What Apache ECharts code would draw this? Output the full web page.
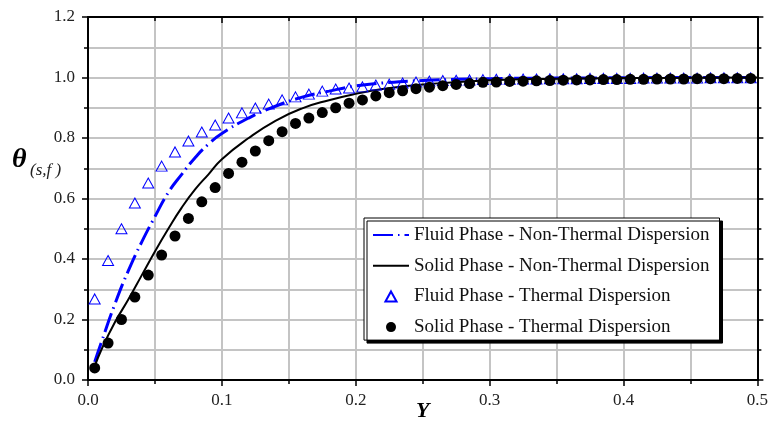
<!DOCTYPE html>
<html>
<head>
<meta charset="utf-8">
<script src="https://cdn.jsdelivr.net/npm/echarts@6/dist/echarts.min.js"></script>
<style>
  html, body { margin: 0; padding: 0; background: #fff; }
  #chart { width: 771px; height: 421px; }
</style>
</head>
<body>
<div id="chart"></div>
<script>
// curve samples (Y positions and theta values)
const lineY = [0.005, 0.01, 0.02, 0.03, 0.04, 0.05, 0.06, 0.07, 0.08, 0.09, 0.10, 0.12, 0.14, 0.16, 0.18, 0.20, 0.22, 0.25, 0.30, 0.35, 0.40, 0.45, 0.50];
const fluidNonThermal = [0.06, 0.125, 0.25, 0.36, 0.455, 0.54, 0.62, 0.68, 0.735, 0.78, 0.815, 0.866, 0.905, 0.935, 0.955, 0.972, 0.982, 0.990, 0.996, 0.998, 0.999, 1.0, 1.0];
const solidNonThermal = [0.045, 0.10, 0.19, 0.265, 0.345, 0.425, 0.50, 0.57, 0.63, 0.68, 0.73, 0.80, 0.857, 0.898, 0.925, 0.946, 0.962, 0.977, 0.991, 0.996, 0.998, 0.999, 1.0];

// marker positions
const markerY = [0.005, 0.015, 0.025, 0.035, 0.045, 0.055, 0.065, 0.075, 0.085, 0.095,
  0.105, 0.115, 0.125, 0.135, 0.145, 0.155, 0.165, 0.175, 0.185, 0.195,
  0.205, 0.215, 0.225, 0.235, 0.245, 0.255, 0.265, 0.275, 0.285, 0.295,
  0.305, 0.315, 0.325, 0.335, 0.345, 0.355, 0.365, 0.375, 0.385, 0.395,
  0.405, 0.415, 0.425, 0.435, 0.445, 0.455, 0.465, 0.475, 0.485, 0.495];
const fluidThermal = [0.268, 0.395, 0.50, 0.585, 0.651, 0.707, 0.754, 0.790, 0.820, 0.843,
  0.866, 0.883, 0.899, 0.912, 0.926, 0.936, 0.945, 0.955, 0.962, 0.965,
  0.969, 0.975, 0.978, 0.982, 0.985, 0.988, 0.990, 0.991, 0.992, 0.993,
  0.994, 0.994, 0.995, 0.995, 0.996, 0.996, 0.996, 0.997, 0.997, 0.997,
  0.997, 0.998, 0.998, 0.998, 0.998, 0.998, 0.999, 0.999, 0.999, 0.999];
const solidThermal = [0.04, 0.122, 0.20, 0.274, 0.347, 0.413, 0.476, 0.534, 0.589, 0.636,
  0.683, 0.720, 0.757, 0.791, 0.821, 0.848, 0.866, 0.884, 0.900, 0.915,
  0.926, 0.939, 0.950, 0.956, 0.963, 0.968, 0.973, 0.977, 0.980, 0.984,
  0.985, 0.987, 0.988, 0.989, 0.990, 0.991, 0.992, 0.992, 0.993, 0.993,
  0.994, 0.994, 0.995, 0.995, 0.995, 0.996, 0.996, 0.996, 0.997, 0.997];

const xTicks = [0, 0.1, 0.2, 0.3, 0.4, 0.5];
const yTicks = [0, 0.2, 0.4, 0.6, 0.8, 1.0, 1.2];

const names = [
  'Fluid Phase - Non-Thermal Dispersion',
  'Solid Phase - Non-Thermal Dispersion',
  'Fluid Phase - Thermal Dispersion',
  'Solid Phase - Thermal Dispersion'
];

const zip = (xs, ys) => xs.map((x, i) => [x, ys[i]]);

const serif = 'Liberation Serif';
const gray = '#c4c4c4';

const chart = echarts.init(document.getElementById('chart'));

const baseX = {
  type: 'value', min: xTicks[0], max: xTicks[xTicks.length - 1], interval: 0.1,
  axisLine: { show: true, onZero: false, lineStyle: { color: '#000', width: 2 } },
  splitLine: { show: true, lineStyle: { color: gray, width: 2 } },
  minorTick: { show: true, splitNumber: 2, length: 4, lineStyle: { color: '#000', width: 1.5 } },
  minorSplitLine: { show: true, lineStyle: { color: gray, width: 2 } }
};
const baseY = {
  type: 'value', min: yTicks[0], max: yTicks[yTicks.length - 1], interval: 0.2,
  axisLine: { show: true, onZero: false, lineStyle: { color: '#000', width: 2 } },
  splitLine: { show: true, lineStyle: { color: gray, width: 2 } },
  minorTick: { show: true, splitNumber: 2, length: 4, lineStyle: { color: '#000', width: 1.5 } },
  minorSplitLine: { show: true, lineStyle: { color: gray, width: 2 } }
};

chart.setOption({
  animation: false,
  backgroundColor: '#fff',
  grid: { left: 88, right: 12, top: 17, bottom: 41 },
  xAxis: [
    Object.assign({}, baseX, {
      position: 'bottom',
      axisTick: { show: true, length: 6, lineStyle: { color: '#000', width: 1.5 } },
      axisLabel: { margin: 12, color: '#222', fontFamily: serif, fontSize: 17, formatter: v => v.toFixed(1) }
    }),
    Object.assign({}, baseX, {
      position: 'top',
      splitLine: { show: false }, minorSplitLine: { show: false },
      axisTick: { show: true, inside: true, length: 6, lineStyle: { color: '#000', width: 1.5 } },
      minorTick: { show: true, splitNumber: 2, length: 4, lineStyle: { color: '#000', width: 1.5 } },
      axisLabel: { show: false }
    })
  ],
  yAxis: [
    Object.assign({}, baseY, {
      position: 'left',
      axisTick: { show: true, length: 6, lineStyle: { color: '#000', width: 1.5 } },
      axisLabel: { margin: 13, color: '#222', fontFamily: serif, fontSize: 17, formatter: v => v.toFixed(1) }
    }),
    Object.assign({}, baseY, {
      position: 'right',
      splitLine: { show: false }, minorSplitLine: { show: false },
      axisTick: { show: true, length: 6, lineStyle: { color: '#000', width: 1.5 } },
      axisLabel: { show: false }
    })
  ],
  legend: {
    orient: 'vertical',
    left: 364, top: 218,
    padding: [7, 10, 3, 8],
    itemWidth: 36, itemHeight: 10, itemGap: 10.7,
    symbolKeepAspect: true,
    backgroundColor: '#fff',
    borderColor: '#000', borderWidth: 1,
    shadowColor: '#000', shadowBlur: 0, shadowOffsetX: 3, shadowOffsetY: 3,
    textStyle: { fontFamily: serif, fontSize: 19, color: '#111', lineHeight: 20 },
    data: [
      { name: names[0], itemStyle: { opacity: 0 } },
      { name: names[1], itemStyle: { opacity: 0 } },
      { name: names[2], icon: 'path://M5,0 L10,9 L0,9 Z' },
      { name: names[3] }
    ]
  },
  series: [
    {
      name: names[0], type: 'line', smooth: true,
      showSymbol: false, symbol: 'none',
      data: zip(lineY, fluidNonThermal),
      lineStyle: { color: '#0000ff', width: 3, type: [20, 5, 1.5, 5] },
      itemStyle: { color: '#0000ff' }, z: 3
    },
    {
      name: names[1], type: 'line', smooth: true,
      showSymbol: false, symbol: 'none',
      data: zip(lineY, solidNonThermal),
      lineStyle: { color: '#000', width: 2 },
      itemStyle: { color: '#000' }, z: 3
    },
    {
      name: names[2], type: 'scatter',
      symbol: 'triangle', symbolSize: [11, 10],
      data: zip(markerY, fluidThermal),
      itemStyle: { color: 'rgba(255,255,255,0)', borderColor: '#0000ff', borderWidth: 1, opacity: 1 }, z: 4
    },
    {
      name: names[3], type: 'scatter',
      symbol: 'circle', symbolSize: 11,
      data: zip(markerY, solidThermal),
      itemStyle: { color: '#000', opacity: 1 }, z: 5
    }
  ],
  graphic: [
    { type: 'text', left: 12, top: 146, style: { text: 'θ', font: 'italic bold 28px "Liberation Serif"', fill: '#000' } },
    { type: 'text', left: 30, top: 162, style: { text: '(s,f )', font: 'italic 17px "Liberation Serif"', fill: '#222' } },
    { type: 'text', left: 416, top: 400, style: { text: 'Y', font: 'italic bold 22px "Liberation Serif"', fill: '#000' } }
  ]
});
</script>
</body>
</html>
